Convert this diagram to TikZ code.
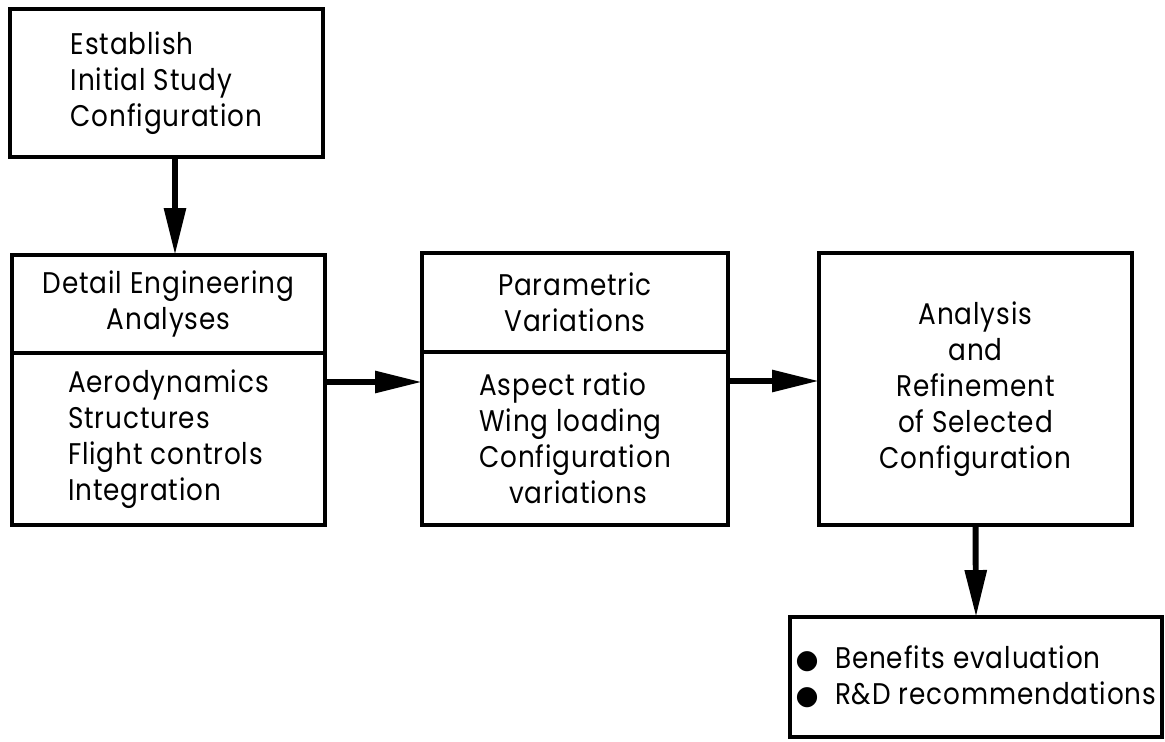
\documentclass[tikz,border=0pt]{standalone}
\usepackage{fontspec}
\setmainfont{Poppins}[FakeStretch=0.88,LetterSpace=3]
\newfontfamily\symfont{DejaVu Sans}
\usetikzlibrary{arrows.meta}
\newcommand\blob{{\symfont\fontsize{15}{15}\selectfont ●}}

\begin{document}
\begin{tikzpicture}[x=0.02cm,y=-0.02cm,
    box/.style={draw, line width=2.3pt, inner sep=0pt, outer sep=0pt},
    flow/.style={line width=3.4pt, -{Triangle[length=0.94cm,width=0.42cm]}},
    font=\fontsize{17}{20.4}\selectfont]
			%%%%% START %%%%%
			\useasboundingbox (0,0) rectangle (1165,741);

			\node[box, align=left, minimum width=6.26cm, minimum height=2.96cm] (est) at (166.5,83)
				{Establish\\Initial Study\\Configuration};

			\node[box, align=center, minimum width=6.26cm, minimum height=1.96cm] (dethead) at (168.5,304)
				{Detail Engineering\\Analyses};
			\node[box, align=left, minimum width=6.26cm, minimum height=3.44cm, anchor=north] (detbody) at (dethead.south)
				{Aerodynamics\\Structures\\Flight controls\\Integration};

			\node[box, align=center, minimum width=6.12cm, minimum height=1.98cm] (parhead) at (575,302.5)
				{Parametric\\Variations};
			\node[box, align=left, minimum width=6.12cm, minimum height=3.46cm, anchor=north] (parbody) at (parhead.south)
				{Aspect ratio\\Wing loading\\Configuration\\\hspace*{1em}variations};

			\node[box, align=center, minimum width=6.26cm, minimum height=5.44cm] (ana) at (975.5,389)
				{Analysis\\and\\Refinement\\of Selected\\Configuration};

			\node[box, align=left, minimum width=7.44cm, minimum height=2.4cm] (out) at (976,677)
				{\blob\hspace{0.55em}Benefits evaluation\\\blob\hspace{0.55em}R\&D recommendations};

			\coordinate (d1) at ([xshift=0.17cm]est.south);
			\draw[flow] (d1) -- (d1 |- dethead.north);
			\coordinate (j1) at ([yshift=-0.58cm]dethead.south east);
			\draw[flow] (j1) -- (j1 -| parbody.west);
			\coordinate (j2) at ([yshift=-0.58cm]parhead.south east);
			\draw[flow] (j2) -- (j2 -| ana.west);
			\draw[flow] (ana.south) -- (out.north);
			%%%%% END %%%%%
\end{tikzpicture}
\end{document}
